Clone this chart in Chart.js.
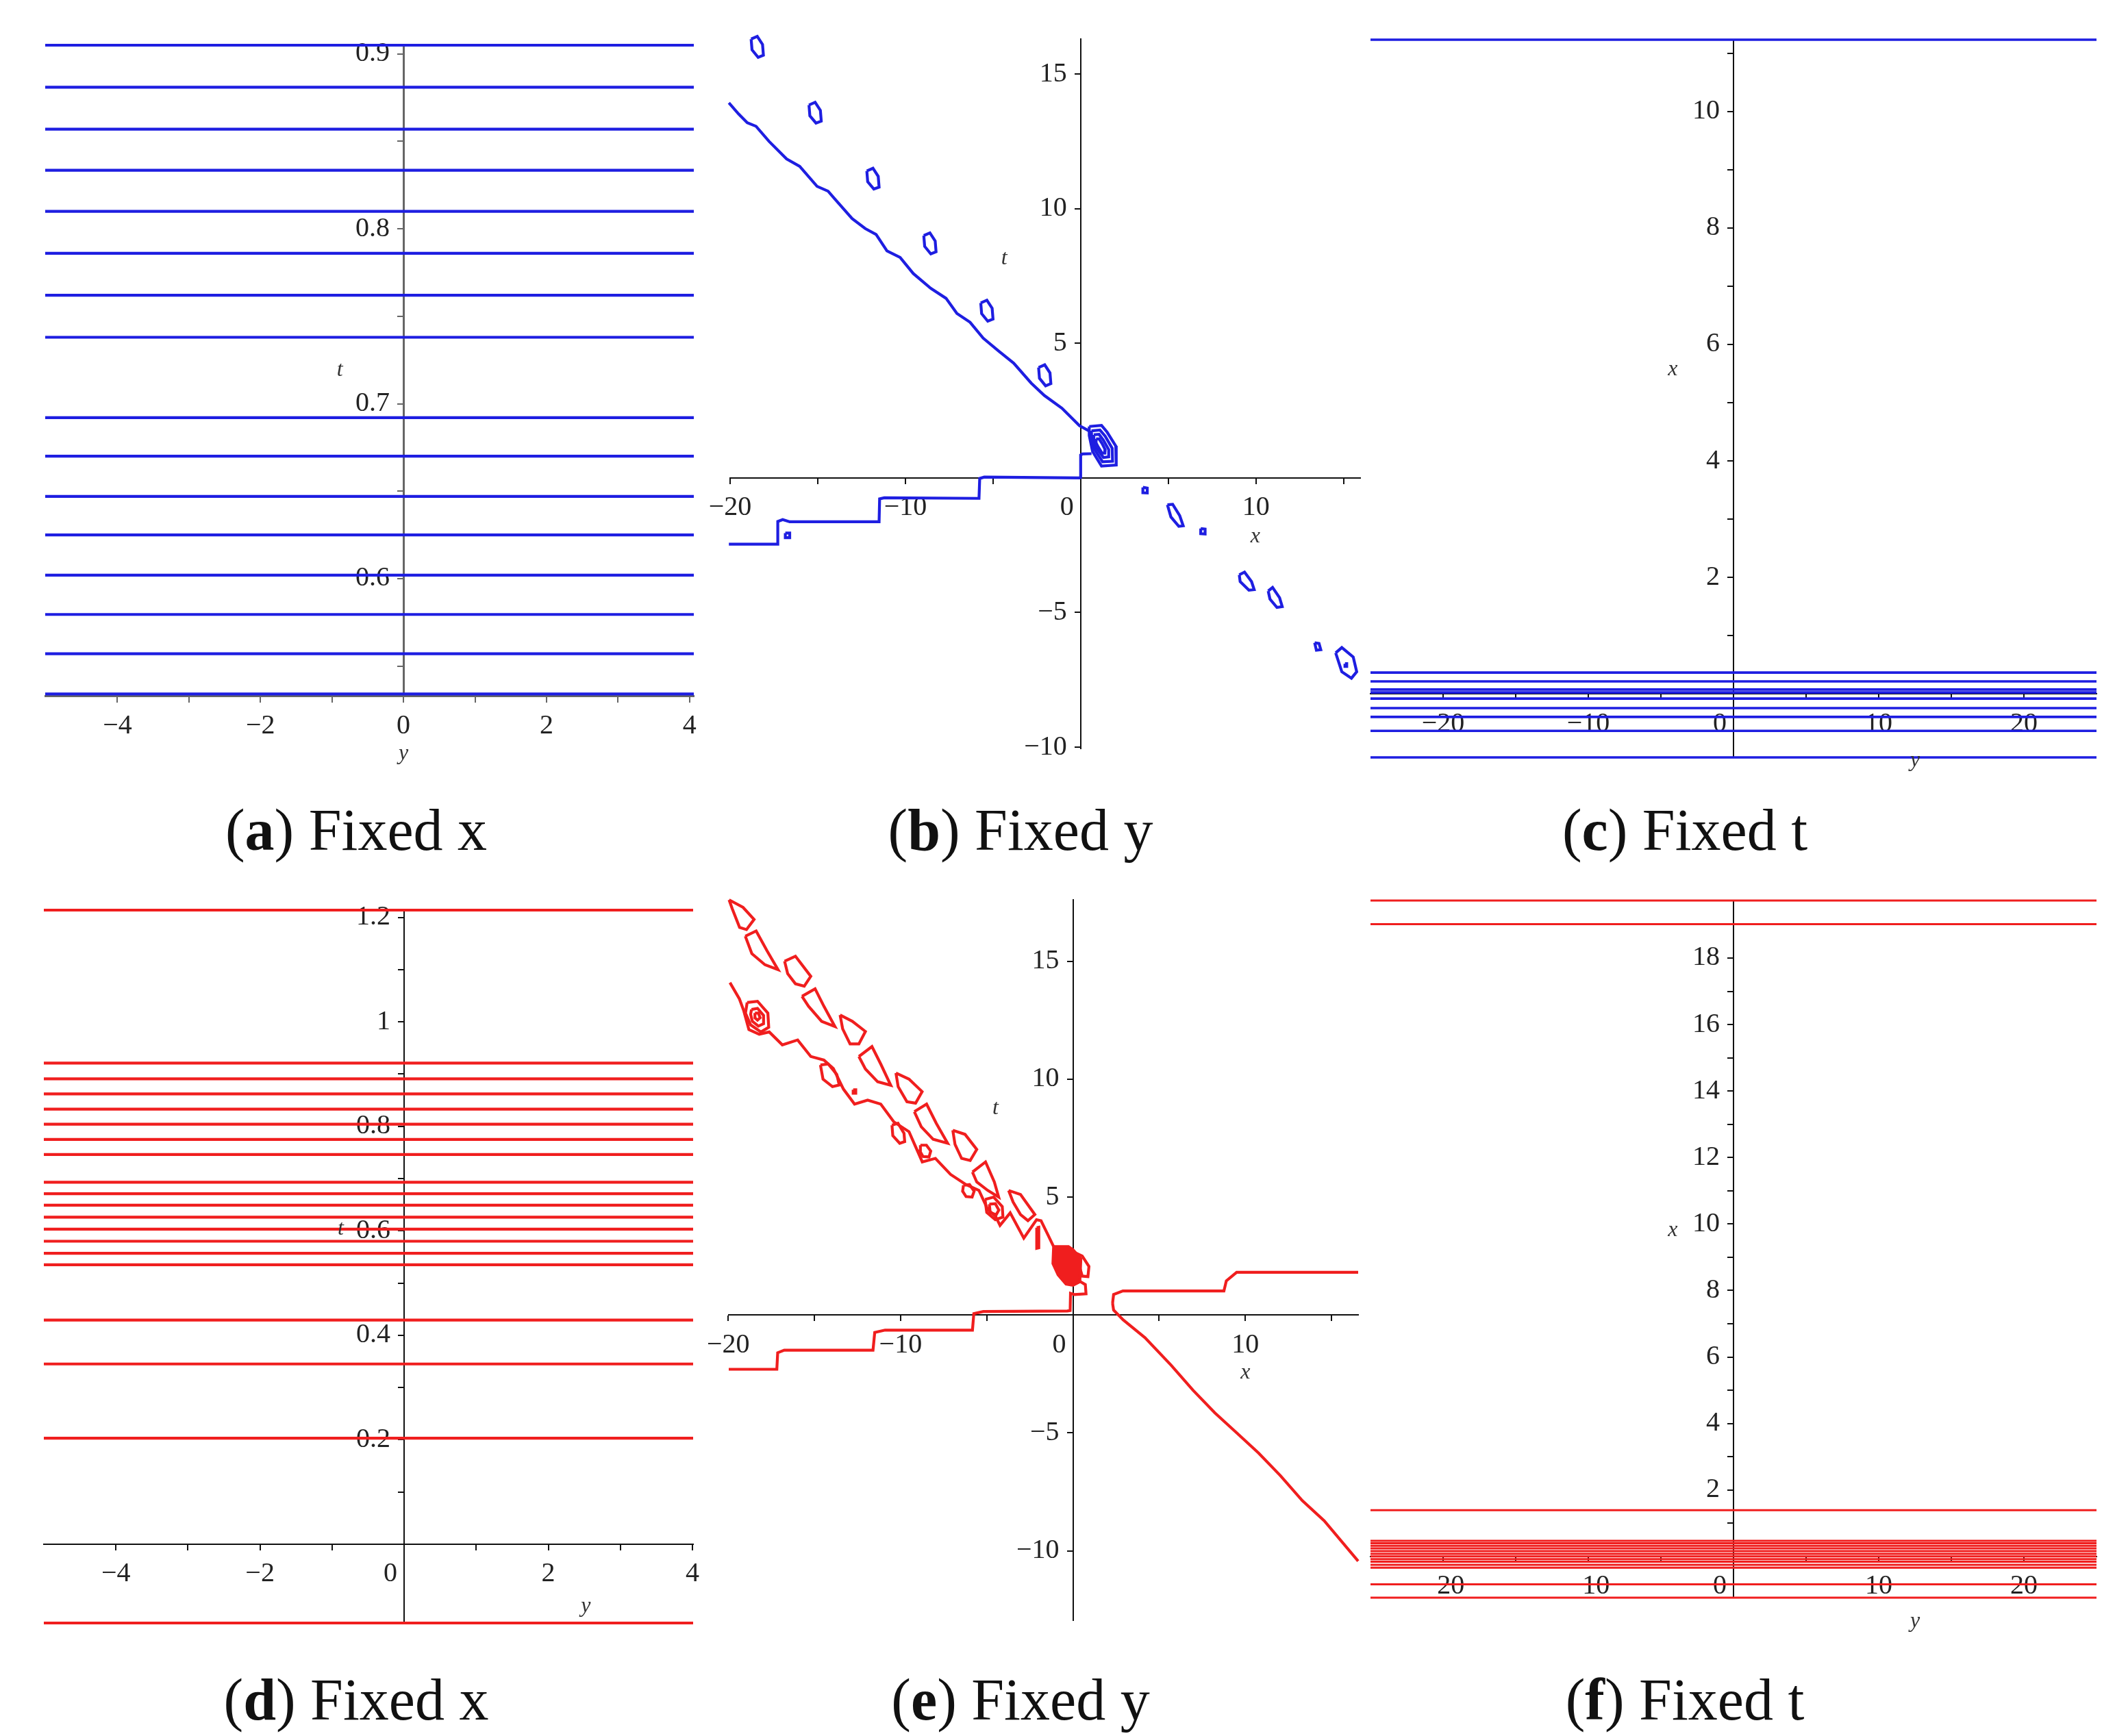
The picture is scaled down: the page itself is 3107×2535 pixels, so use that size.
<!DOCTYPE html>
<html lang="en">
<head>
    <meta charset="UTF-8">
    <title>Contour sections</title>
    <script src="https://cdn.jsdelivr.net/npm/chart.js"></script>
    <style>
        * {
            margin: 0;
            padding: 0;
            box-sizing: border-box;
        }

        body {
            width: 3107px;
            height: 2535px;
            background: #fff;
            position: relative;
            overflow: hidden;
            font-family: "Liberation Serif", serif;
        }

        canvas {
            position: absolute;
        }

        .caption {
            position: absolute;
            font-size: 86px;
            line-height: 1;
            color: #111;
            white-space: nowrap;
            transform: translate(-50%, -50%);
        }
    </style>
</head>
<body>
    <canvas id="panelA"></canvas>
    <canvas id="panelB"></canvas>
    <canvas id="panelC"></canvas>
    <canvas id="panelD"></canvas>
    <canvas id="panelE"></canvas>
    <canvas id="panelF"></canvas>

    <div class="caption" style="left:520px; top:1212px">(<b>a</b>) Fixed x</div>
    <div class="caption" style="left:1490px; top:1212px">(<b>b</b>) Fixed y</div>
    <div class="caption" style="left:2460px; top:1212px">(<b>c</b>) Fixed t</div>
    <div class="caption" style="left:520px; top:2482px">(<b>d</b>) Fixed x</div>
    <div class="caption" style="left:1490px; top:2482px">(<b>e</b>) Fixed y</div>
    <div class="caption" style="left:2460px; top:2482px">(<b>f</b>) Fixed t</div>

    <script>
        const blue = "rgb(30,30,225)";
        const red = "rgb(240,30,30)";

        // level lines (value of the vertical variable) for the straight contour panels
        const levelsA = [0.905, 0.881, 0.857, 0.8335, 0.81, 0.786, 0.762, 0.738, 0.692, 0.67, 0.647, 0.625, 0.602, 0.5795, 0.557, 0.534];
        const levelsC = [11.23, 0.366, 0.215, 0.075, 0.025, -0.08, -0.244, -0.395, -0.635, -1.09];
        const levelsD = [1.214, 0.921, 0.891, 0.862, 0.833, 0.804, 0.775, 0.746, 0.693, 0.671, 0.649, 0.626, 0.603, 0.58, 0.557, 0.535, 0.429, 0.345, 0.203, -0.151];
        const levelsF = [19.73, 19.02, 1.39, 0.468, 0.4, 0.318, 0.242, 0.16, 0.079, 0.0, -0.08, -0.16, -0.25, -0.34, -0.84, -1.24];

        // (b) fixed y : curves as [x, t]
        const bWave = [[-20.07, 13.93], [-19.52, 13.52], [-19.02, 13.19], [-18.52, 13.06], [-17.78, 12.5], [-16.78, 11.85], [-16.03, 11.57], [-15.04, 10.83], [-14.41, 10.65], [-14.04, 10.37], [-13.04, 9.63], [-12.29, 9.26], [-11.67, 9.04], [-11.05, 8.43], [-10.3, 8.19], [-9.55, 7.59], [-8.55, 7.04], [-7.68, 6.67], [-7.06, 6.11], [-6.31, 5.78], [-5.56, 5.19], [-4.69, 4.72], [-3.82, 4.26], [-2.82, 3.52], [-2.07, 3.06], [-1.07, 2.59], [-0.07, 1.94], [0.49, 1.74]];
        const bStep = [[-20.07, -2.46], [-17.3, -2.46], [-17.28, -1.62], [-17.0, -1.55], [-16.6, -1.63], [-11.5, -1.63], [-11.47, -0.78], [-11.2, -0.74], [-5.8, -0.76], [-5.76, -0.02], [-5.5, 0.03], [-0.05, 0.0], [0.0, 0.02], [0.0, 0.85], [0.1, 0.89], [0.62, 0.9]];
        const bLoops = [
            [[-18.8, 16.3], [-18.45, 16.4], [-18.15, 16.1], [-18.1, 15.7], [-18.4, 15.62], [-18.75, 15.9], [-18.8, 16.3]],
            [[-15.5, 13.85], [-15.15, 13.95], [-14.85, 13.65], [-14.8, 13.25], [-15.1, 13.18], [-15.45, 13.45], [-15.5, 13.85]],
            [[-12.2, 11.4], [-11.85, 11.5], [-11.55, 11.2], [-11.5, 10.8], [-11.8, 10.73], [-12.15, 11.0], [-12.2, 11.4]],
            [[-8.95, 9.0], [-8.6, 9.1], [-8.3, 8.8], [-8.25, 8.4], [-8.55, 8.32], [-8.9, 8.6], [-8.95, 9.0]],
            [[-5.7, 6.5], [-5.35, 6.6], [-5.05, 6.3], [-5.0, 5.9], [-5.3, 5.82], [-5.65, 6.1], [-5.7, 6.5]],
            [[-2.4, 4.1], [-2.05, 4.2], [-1.75, 3.9], [-1.7, 3.5], [-2.0, 3.42], [-2.35, 3.7], [-2.4, 4.1]],
            [[-16.85, -2.05], [-16.6, -2.05], [-16.6, -2.22], [-16.85, -2.22], [-16.85, -2.05]],
            [[3.55, -0.35], [3.8, -0.38], [3.8, -0.56], [3.55, -0.55], [3.55, -0.35]],
            [[4.95, -1.0], [5.25, -0.98], [5.65, -1.4], [5.85, -1.78], [5.6, -1.8], [5.15, -1.45], [4.95, -1.0]],
            [[6.85, -1.88], [7.1, -1.9], [7.1, -2.08], [6.85, -2.07], [6.85, -1.88]],
            [[9.05, -3.6], [9.35, -3.5], [9.75, -3.85], [9.9, -4.15], [9.6, -4.17], [9.1, -3.85], [9.05, -3.6]],
            [[10.7, -4.2], [10.95, -4.07], [11.35, -4.45], [11.5, -4.78], [11.2, -4.81], [10.8, -4.5], [10.7, -4.2]],
            [[13.35, -6.12], [13.6, -6.15], [13.7, -6.38], [13.45, -6.4], [13.35, -6.12]],
            [[14.55, -6.5], [14.9, -6.3], [15.55, -6.65], [15.75, -7.2], [15.45, -7.44], [14.9, -7.2], [14.55, -6.5]],
            [[15.08, -6.9], [15.18, -6.9], [15.18, -7.0], [15.08, -7.0], [15.08, -6.9]]
        ];
        const bRings = [
            [[0.49, 1.91], [1.19, 1.95], [1.51, 1.7], [2.0, 1.19], [2.03, 0.48], [1.19, 0.44], [0.68, 0.98], [0.49, 1.57], [0.49, 1.91]],
            [[0.62, 1.75], [1.1, 1.78], [1.4, 1.55], [1.8, 1.1], [1.82, 0.62], [1.25, 0.6], [0.8, 1.05], [0.62, 1.45], [0.62, 1.75]],
            [[0.75, 1.6], [1.05, 1.62], [1.3, 1.4], [1.6, 1.05], [1.6, 0.78], [1.3, 0.76], [0.92, 1.1], [0.75, 1.35], [0.75, 1.6]],
            [[0.88, 1.45], [1.05, 1.45], [1.22, 1.28], [1.4, 1.05], [1.38, 0.92], [1.22, 0.92], [1.0, 1.15], [0.88, 1.3], [0.88, 1.45]]
        ];

        // (e) fixed y : curves as [x, t]
        const eStepLeft = [[-19.97, -2.3], [-17.18, -2.3], [-17.13, -1.6], [-16.75, -1.49], [-11.6, -1.49], [-11.5, -0.74], [-10.9, -0.64], [-5.83, -0.64], [-5.75, 0.06], [-5.2, 0.15], [-0.33, 0.17], [-0.16, 0.19], [-0.14, 0.92], [0.07, 0.87], [0.76, 0.9], [0.72, 1.29], [0.4, 1.43]];
        const eStepRight = [[2.3, 0.5], [2.36, 0.87], [2.9, 1.02], [8.76, 1.02], [8.9, 1.45], [9.5, 1.81], [16.55, 1.81]];
        const eDiag = [[2.3, 0.5], [2.36, 0.21], [2.92, -0.21], [4.18, -0.96], [5.7, -2.13], [6.97, -3.19], [8.24, -4.15], [9.51, -5.0], [10.77, -5.85], [12.04, -6.81], [13.31, -7.87], [14.58, -8.72], [16.55, -10.43]];
        const eWave = [[-19.9, 14.09], [-19.35, 13.4], [-19.1, 12.9], [-18.8, 12.1], [-18.2, 11.9], [-17.62, 12.0], [-16.86, 11.45], [-15.97, 11.66], [-15.21, 10.96], [-14.45, 10.81], [-13.9, 10.45], [-13.31, 9.57], [-12.67, 8.94], [-11.91, 9.11], [-11.15, 8.94], [-10.39, 8.19], [-9.51, 7.77], [-8.74, 6.49], [-7.98, 6.64], [-7.1, 5.96], [-6.21, 5.53], [-5.45, 5.28], [-4.94, 4.47], [-4.5, 4.2], [-4.23, 3.8], [-3.64, 4.33], [-2.85, 3.26], [-2.11, 4.04], [-1.85, 4.0], [-1.45, 3.4], [-1.12, 2.9]];
        const eCells = [
            [[-19.95, 17.6], [-19.14, 17.28], [-18.5, 16.77], [-18.94, 16.34], [-19.34, 16.43], [-19.77, 17.23], [-19.95, 17.6]],
            [[-19.01, 16.06], [-18.38, 16.28], [-17.74, 15.43], [-17.11, 14.64], [-17.87, 14.85], [-18.63, 15.32], [-19.01, 16.06]],
            [[-16.73, 15.0], [-16.1, 15.21], [-15.21, 14.36], [-15.59, 13.94], [-16.1, 14.04], [-16.55, 14.47], [-16.73, 15.0]],
            [[-15.72, 13.51], [-14.96, 13.83], [-14.45, 13.09], [-13.81, 12.23], [-14.58, 12.45], [-15.34, 13.09], [-15.72, 13.51]],
            [[-13.51, 12.72], [-12.8, 12.45], [-12.04, 12.02], [-12.42, 11.49], [-12.93, 11.49], [-13.36, 12.13], [-13.51, 12.72]],
            [[-12.42, 10.96], [-11.66, 11.38], [-11.15, 10.64], [-10.57, 9.74], [-11.33, 9.89], [-12.04, 10.43], [-12.42, 10.96]],
            [[-10.27, 10.26], [-9.51, 10.0], [-8.75, 9.47], [-9.13, 8.98], [-9.63, 9.04], [-10.14, 9.68], [-10.27, 10.26]],
            [[-9.2, 8.62], [-8.49, 8.94], [-7.93, 8.13], [-7.27, 7.28], [-8.11, 7.45], [-8.8, 7.98], [-9.2, 8.62]],
            [[-6.97, 7.83], [-6.26, 7.66], [-5.58, 7.02], [-5.96, 6.55], [-6.46, 6.64], [-6.84, 7.23], [-6.97, 7.83]],
            [[-5.83, 6.06], [-5.07, 6.49], [-4.56, 5.64], [-4.31, 5.0], [-4.94, 5.28], [-5.58, 5.64], [-5.83, 6.06]],
            [[-3.73, 5.28], [-3.04, 5.11], [-2.21, 4.26], [-2.61, 4.0], [-3.04, 4.26], [-3.47, 4.79], [-3.73, 5.28]]
        ];
        const eLoops = [
            [[-18.9, 13.25], [-18.3, 13.3], [-17.7, 12.8], [-17.65, 12.2], [-18.1, 12.0], [-18.7, 12.3], [-19.0, 12.8], [-18.9, 13.25]],
            [[-18.65, 12.95], [-18.3, 13.0], [-17.95, 12.7], [-17.95, 12.35], [-18.25, 12.25], [-18.6, 12.45], [-18.7, 12.75], [-18.65, 12.95]],
            [[-18.45, 12.8], [-18.25, 12.8], [-18.15, 12.6], [-18.3, 12.5], [-18.45, 12.6], [-18.45, 12.8]],
            [[-14.65, 10.6], [-14.2, 10.64], [-13.7, 10.2], [-13.56, 9.75], [-13.95, 9.68], [-14.5, 10.0], [-14.65, 10.6]],
            [[-12.75, 9.55], [-12.6, 9.55], [-12.6, 9.4], [-12.75, 9.4], [-12.75, 9.55]],
            [[-10.5, 8.05], [-10.15, 8.13], [-9.8, 7.7], [-9.76, 7.35], [-10.05, 7.28], [-10.45, 7.6], [-10.5, 8.05]],
            [[-8.85, 7.2], [-8.5, 7.2], [-8.25, 6.95], [-8.35, 6.7], [-8.7, 6.72], [-8.88, 6.95], [-8.85, 7.2]],
            [[-6.35, 5.5], [-6.0, 5.53], [-5.73, 5.25], [-5.85, 5.0], [-6.2, 5.02], [-6.4, 5.25], [-6.35, 5.5]],
            [[-5.1, 4.9], [-4.6, 5.0], [-4.1, 4.6], [-4.06, 4.15], [-4.5, 4.04], [-5.0, 4.35], [-5.1, 4.9]],
            [[-4.85, 4.7], [-4.5, 4.72], [-4.3, 4.45], [-4.45, 4.25], [-4.8, 4.35], [-4.85, 4.7]],
            [[-2.1, 3.7], [-1.98, 3.72], [-1.98, 2.85], [-2.1, 2.83], [-2.1, 3.7]],
            [[0.14, 2.64], [0.54, 2.5], [0.93, 2.06], [0.87, 1.63], [0.54, 1.65], [0.38, 2.06], [0.2, 2.4], [0.14, 2.64]]
        ];
        const eBlob = [[-1.12, 2.9], [-0.26, 2.9], [0.0, 2.77], [0.46, 2.38], [0.4, 1.41], [0.0, 1.26], [-0.4, 1.31], [-0.86, 1.7], [-1.16, 2.18], [-1.12, 2.9]];

        // tick values
        const ticksAX = { major: [-4, -2, 0, 2, 4], minor: [-3, -1, 1, 3] };
        const ticksAY = { major: [0.6, 0.7, 0.8, 0.9], minor: [0.55, 0.65, 0.75, 0.85] };
        const ticksBX = { major: [-20, -10, 0, 10], minor: [-15, -5, 5, 15] };
        const ticksBY = { major: [-10, -5, 5, 10, 15], minor: [] };
        const ticksCX = { major: [-20, -10, 0, 10, 20], minor: [-15, -5, 5, 15] };
        const ticksCY = { major: [2, 4, 6, 8, 10], minor: [1, 3, 5, 7, 9, 11] };
        const ticksDY = { major: [0.2, 0.4, 0.6, 0.8, 1, 1.2], minor: [0.1, 0.3, 0.5, 0.7, 0.9, 1.1] };
        const ticksFY = { major: [2, 4, 6, 8, 10, 12, 14, 16, 18], minor: [1, 3, 5, 7, 9, 11, 13, 15, 17, 19] };

        // italic axis names, placed in data units
        const axisText = {
            id: "axisText",
            afterDraw(chart, args, opts) {
                const { ctx, scales } = chart;
                ctx.save();
                ctx.font = 'italic 32px "Liberation Serif"';
                ctx.fillStyle = "#333";
                ctx.textAlign = "center";
                ctx.textBaseline = "middle";
                opts.items.forEach(it => {
                    ctx.fillText(it.text, scales.x.getPixelForValue(it.x), scales.y.getPixelForValue(it.y));
                });
                ctx.restore();
            }
        };

        const gap = "\u2002";

        function fmt(v) {
            return v < 0 ? "\u2212" + (-v) : String(v);
        }

        function lineSet(points, color, filled, width) {
            return {
                data: points.map(p => ({ x: p[0], y: p[1] })),
                showLine: true,
                borderColor: color,
                backgroundColor: color,
                borderWidth: width || 4.2,
                pointRadius: 0,
                tension: 0,
                clip: 8,
                fill: filled ? "shape" : false
            };
        }

        function levelSets(levels, xr, color, width) {
            return levels.map(v => lineSet([[xr[0], v], [xr[1], v]], color, false, width));
        }

        // horizontal labels: zero nudged left of the vertical axis (shiftZero)
        // vertical labels: right aligned on the axis, so a trailing gap keeps them off it
        function axisOpts(range, ticks, pos, horizontal, color, width, shiftZero) {
            const all = ticks.major.concat(ticks.minor).sort((a, b) => a - b);
            const label = v => {
                if (!ticks.major.includes(v)) return "";
                if (!horizontal) return fmt(v) + gap;
                return (v === 0 && shiftZero) ? "0" + gap + gap : fmt(v);
            };
            return {
                type: "linear",
                min: range[0],
                max: range[1],
                position: pos,
                afterFit: s => { if (horizontal) s.height = 0; else s.width = 0; },
                afterBuildTicks: s => { s.ticks = all.map(v => ({ value: v })); },
                ticks: {
                    autoSkip: false,
                    maxRotation: 0,
                    font: { family: "Liberation Serif", size: 40 },
                    color: "#222",
                    padding: 12,
                    callback: label
                },
                grid: { drawOnChartArea: false, tickLength: 8, color: color, lineWidth: 2 },
                border: { color: color, width: width }
            };
        }

        function makePanel(id, cell, area, xr, yr, xt, yt, xAxisAt, datasets, words, look) {
            const cv = document.getElementById(id);
            cv.width = cell.w;
            cv.height = cell.h;
            cv.style.left = cell.x + "px";
            cv.style.top = cell.y + "px";
            return new Chart(cv, {
                type: "scatter",
                data: { datasets: datasets },
                options: {
                    responsive: false,
                    animation: false,
                    devicePixelRatio: 1,
                    layout: {
                        padding: {
                            left: area.l - cell.x,
                            top: area.t - cell.y,
                            right: cell.x + cell.w - area.r,
                            bottom: cell.y + cell.h - area.b
                        }
                    },
                    plugins: {
                        legend: { display: false },
                        tooltip: { enabled: false },
                        axisText: { items: words }
                    },
                    scales: {
                        x: axisOpts(xr, xt, { y: xAxisAt }, true, look.color, look.width, look.shiftZero),
                        y: axisOpts(yr, yt, { x: 0 }, false, look.color, look.width, look.shiftZero)
                    }
                },
                plugins: [axisText]
            });
        }

        const plainAxes = { color: "#111", width: 2, shiftZero: true };

        // (a)
        const xrA = [-5.01, 4.06];
        makePanel("panelA", { x: 0, y: 0, w: 1060, h: 1150 }, { l: 66, t: 66, r: 1013, b: 1016 },
            xrA, [0.533, 0.905], ticksAX, ticksAY, 0.533,
            levelSets(levelsA, xrA, blue),
            [{ text: "t", x: -0.89, y: 0.719 }, { text: "y", x: 0, y: 0.5 }],
            { color: "#666", width: 3, shiftZero: false });

        // (b)
        makePanel("panelB", { x: 1000, y: 0, w: 1010, h: 1150 }, { l: 1066, t: 57, r: 1986, b: 1093 },
            [-20, 15.95], [-10.05, 16.3], ticksBX, ticksBY, 0,
            [lineSet(bWave, blue), lineSet(bStep, blue)]
                .concat(bLoops.map(p => lineSet(p, blue)))
                .concat(bRings.map(p => lineSet(p, blue))),
            [{ text: "t", x: -4.36, y: 8.15 }, { text: "x", x: 9.97, y: -2.18 }], plainAxes);

        // (c)
        const xrC = [-25, 25];
        makePanel("panelC", { x: 1960, y: 0, w: 1147, h: 1150 }, { l: 2001, t: 58, r: 3061, b: 1106 },
            xrC, [-1.09, 11.23], ticksCX, ticksCY, 0,
            levelSets(levelsC, xrC, blue, 3.6),
            [{ text: "x", x: -4.18, y: 5.57 }, { text: "y", x: 12.5, y: -1.14 }], plainAxes);

        // (d)
        const xrD = [-5, 4.01];
        makePanel("panelD", { x: 0, y: 1260, w: 1060, h: 1180 }, { l: 64, t: 1329, r: 1012, b: 2370 },
            xrD, [-0.151, 1.214], ticksAX, ticksDY, 0,
            levelSets(levelsD, xrD, red),
            [{ text: "t", x: -0.88, y: 0.604 }, { text: "y", x: 2.52, y: -0.119 }], plainAxes);

        // (e)
        makePanel("panelE", { x: 1000, y: 1260, w: 1010, h: 1180 }, { l: 1064, t: 1314, r: 1983, b: 2366 },
            [-19.97, 16.55], [-12.94, 17.6], ticksBX, ticksBY, 0,
            [lineSet(eStepLeft, red), lineSet(eStepRight, red), lineSet(eDiag, red), lineSet(eWave, red), lineSet(eBlob, red, true)]
                .concat(eCells.map(p => lineSet(p, red)))
                .concat(eLoops.map(p => lineSet(p, red))),
            [{ text: "t", x: -4.49, y: 8.77 }, { text: "x", x: 10.01, y: -2.45 }], plainAxes);

        // (f)
        const xrF = [-25, 25];
        makePanel("panelF", { x: 1960, y: 1260, w: 1147, h: 1180 }, { l: 2001, t: 1315, r: 3061, b: 2333 },
            xrF, [-1.24, 19.73], ticksCX, ticksFY, 0,
            levelSets(levelsF, xrF, red, 3.0),
            [{ text: "x", x: -4.18, y: 9.81 }, { text: "y", x: 12.5, y: -1.95 }], plainAxes);
    </script>
</body>
</html>
